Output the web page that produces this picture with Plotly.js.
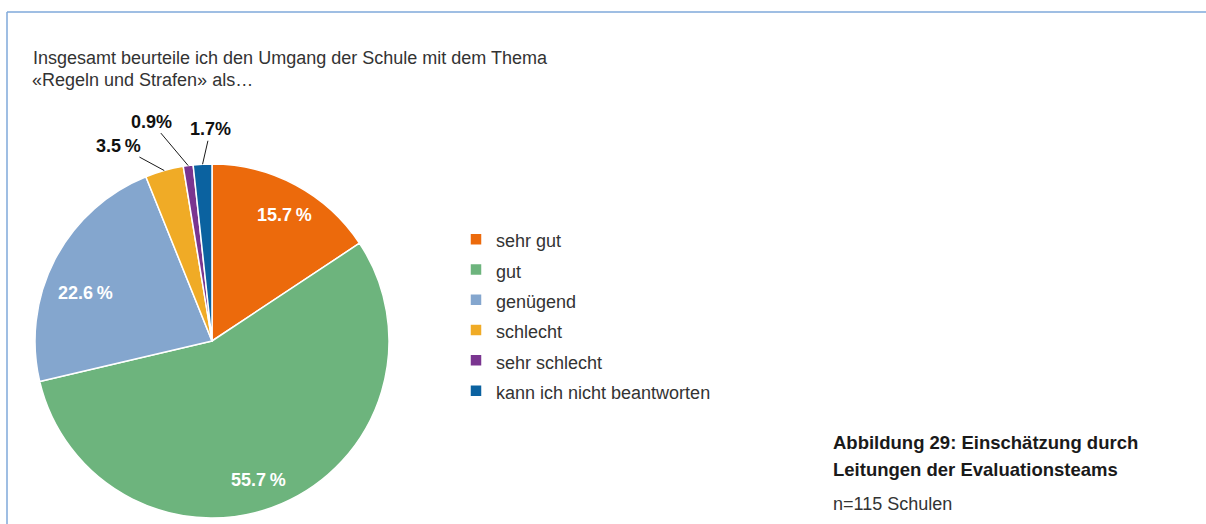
<!DOCTYPE html>
<html>
<head>
<meta charset="utf-8">
<script src="https://cdn.plot.ly/plotly-3.0.1.min.js"></script>
<style>html,body{margin:0;padding:0;background:#fff;}#chart{width:1206px;height:524px;}</style>
</head>
<body>
<div id="chart"></div>
<script>
// ---- data ----
const categories = ['sehr gut', 'gut', 'genügend', 'schlecht', 'sehr schlecht', 'kann ich nicht beantworten'];
const percentages = [15.7, 55.7, 22.6, 3.5, 0.9, 1.7];
const valueLabels = ['15.7\u2009%', '55.7\u2009%', '22.6\u2009%', '3.5\u2009%', '0.9%', '1.7%'];
const titleLines = ['Insgesamt beurteile ich den Umgang der Schule mit dem Thema', '«Regeln und Strafen» als…'];
const captionLines = ['Abbildung 29: Einschätzung durch', 'Leitungen der Evaluationsteams'];
const noteText = 'n=115 Schulen';

// ---- style ----
const colors = ['#EC6A0C', '#6DB47D', '#84A6CE', '#F0AB26', '#7A3590', '#0B62A0'];
const W = 1206, H = 524;
const cx = 212, cy = 341, R = 177;           // pie centre / radius in px
const FONT = 'Liberation Sans, Arial, sans-serif';
// label placement: inside labels (radius fraction + fine shift), outside labels (offset from rim)
const inside = [true, true, true, false, false, false];
const labelXShift = [4, -11, 2, 0, 0, 0];
const labelYShift = [-2, -6, -19, 0, 0, 0];
const calloutAX = [0, 0, 0, -46, -37, 8];
const calloutAY = [0, 0, 0, -25, -44, -35];

const total = percentages.reduce((a, b) => a + b, 0);
const annotations = [];
let cum = 0;
percentages.forEach((v, i) => {
  const mid = (cum + v / 2) / total * 2 * Math.PI;
  cum += v;
  const k = inside[i] ? 0.82 : 1.0;
  const px = cx + R * k * Math.sin(mid);
  const py = cy - R * k * Math.cos(mid);
  if (inside[i]) {
    annotations.push({
      x: px / W, y: 1 - py / H, xref: 'paper', yref: 'paper',
      text: '<b>' + valueLabels[i] + '</b>', showarrow: false,
      xanchor: 'center', yanchor: 'middle',
      xshift: labelXShift[i], yshift: labelYShift[i],
      font: {family: FONT, size: 18, color: '#ffffff'}
    });
  } else {
    annotations.push({
      x: px / W, y: 1 - py / H, xref: 'paper', yref: 'paper',
      text: '<b>' + valueLabels[i] + '</b>', showarrow: true,
      arrowhead: 0, arrowwidth: 1, arrowcolor: '#1a1a1a', standoff: 0, borderpad: 1,
      ax: calloutAX[i], ay: calloutAY[i],
      font: {family: FONT, size: 18, color: '#111111'}
    });
  }
});

// second title line
annotations.push({
  x: 33 / W, y: 1 - 80 / H, xref: 'paper', yref: 'paper',
  xanchor: 'left', yanchor: 'middle', showarrow: false, xshift: -3,
  text: titleLines[1], font: {family: FONT, size: 18, color: '#333333'}
});

// caption
const capY = [442, 469];
captionLines.forEach((t, i) => {
  annotations.push({
    x: 833 / W, y: 1 - capY[i] / H, xref: 'paper', yref: 'paper',
    xanchor: 'left', yanchor: 'middle', showarrow: false, xshift: -2,
    text: '<b>' + t + '</b>', font: {family: FONT, size: 18.5, color: '#1a1a1a'}
  });
});
annotations.push({
  x: 833 / W, y: 1 - 504 / H, xref: 'paper', yref: 'paper',
  xanchor: 'left', yanchor: 'middle', showarrow: false, xshift: -2,
  text: noteText, font: {family: FONT, size: 18, color: '#333333'}
});

const trace = {
  type: 'pie',
  labels: categories.map(c => '<span style="font-size:18px">' + c + '</span>'),
  values: percentages,
  sort: false,
  direction: 'clockwise',
  rotation: 0,
  textinfo: 'none',
  hoverinfo: 'label+percent',
  marker: {colors: colors, line: {color: '#ffffff', width: 1.5}},
  domain: {x: [(cx - R) / W, (cx + R) / W], y: [1 - (cy + R) / H, 1 - (cy - R) / H]}
};

const layout = {
  width: W, height: H,
  margin: {l: 0, r: 0, t: 0, b: 0},
  paper_bgcolor: '#ffffff',
  font: {family: FONT, color: '#333333'},
  title: {
    text: titleLines[0],
    x: 33 / W, xanchor: 'left', xref: 'paper',
    y: 1 - 58 / H, yanchor: 'middle', yref: 'container',
    font: {family: FONT, size: 18, color: '#333333'}
  },
  showlegend: true,
  legend: {
    x: 456 / W, xanchor: 'left',
    y: 1 - 219 / H, yanchor: 'top',
    font: {family: FONT, size: 21, color: '#333333'},
    bgcolor: 'rgba(0,0,0,0)', borderwidth: 0
  },
  annotations: annotations,
  shapes: [
    {type: 'line', xref: 'paper', yref: 'paper', x0: 7 / W, x1: 1, y0: 1 - 12 / H, y1: 1 - 12 / H,
     line: {color: '#7FA8DA', width: 1.5}},
    {type: 'line', xref: 'paper', yref: 'paper', x0: 7 / W, x1: 7 / W, y0: 0, y1: 1 - 12 / H,
     line: {color: '#7FA8DA', width: 1.5}}
  ]
};

Plotly.newPlot('chart', [trace], layout, {displayModeBar: false, staticPlot: true});
</script>
</body>
</html>
